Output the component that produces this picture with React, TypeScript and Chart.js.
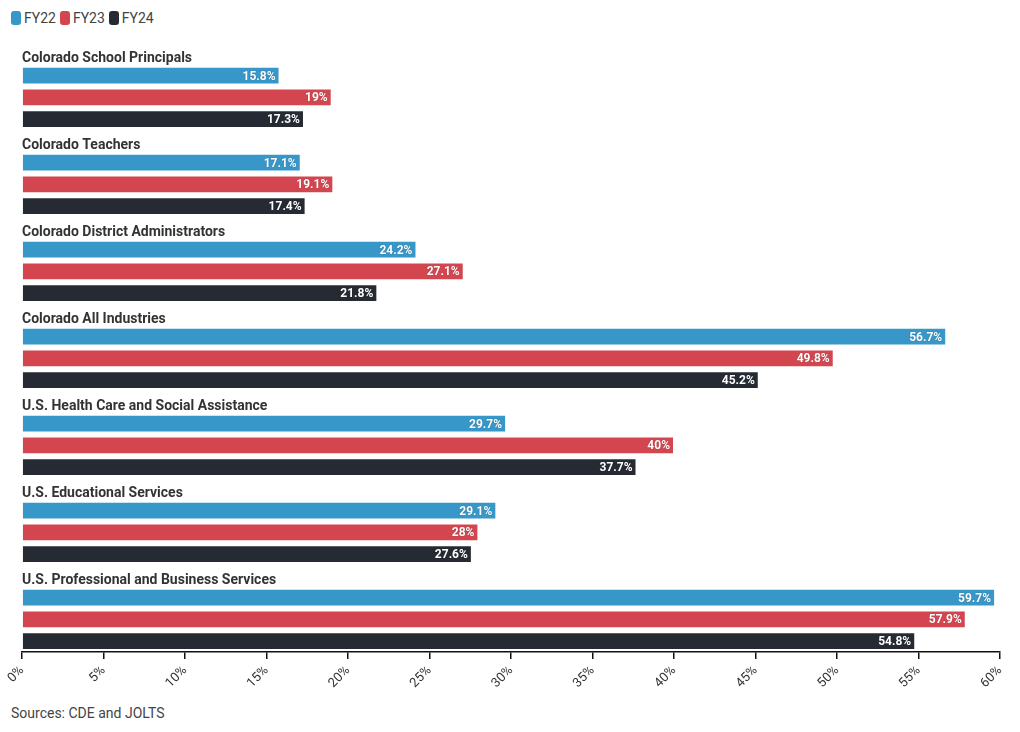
import React, { useEffect, useRef } from "react";
import { Chart, registerables } from "chart.js";

Chart.register(...registerables);

const categories = [
  "Colorado School Principals",
  "Colorado Teachers",
  "Colorado District Administrators",
  "Colorado All Industries",
  "U.S. Health Care and Social Assistance",
  "U.S. Educational Services",
  "U.S. Professional and Business Services",
];
const seriesNames = ["FY22", "FY23", "FY24"];
const fy22 = [15.8, 17.1, 24.2, 56.7, 29.7, 29.1, 59.7];
const fy23 = [19, 19.1, 27.1, 49.8, 40, 28, 57.9];
const fy24 = [17.3, 17.4, 21.8, 45.2, 37.7, 27.6, 54.8];
const colors = ["#3797c9", "#d4464f", "#262b33"];
const xTicks = [0, 5, 10, 15, 20, 25, 30, 35, 40, 45, 50, 55, 60];
const sourceText = "Sources: CDE and JOLTS";

const FONT = "Roboto, 'Noto Sans', sans-serif";

const labelPlugin = {
  id: "groupLabels",
  afterDatasetsDraw(chart: any) {
    const ctx = chart.ctx;
    ctx.save();
    for (let d = 1; d <= 3; d++) {
      const meta = chart.getDatasetMeta(d);
      const ds = chart.data.datasets[d];
      meta.data.forEach((bar: any, i: number) => {
        const v = ds.data[i];
        ctx.font = `bold 12px ${FONT}`;
        ctx.textAlign = "right";
        ctx.textBaseline = "middle";
        ctx.fillStyle = "#ffffff";
        ctx.shadowColor = "rgba(0,0,0,0.35)";
        ctx.shadowBlur = 1;
        ctx.fillText(`${v}%`, bar.x - 4, bar.y + 1);
      });
    }
    ctx.shadowColor = "transparent";
    ctx.shadowBlur = 0;
    const meta1 = chart.getDatasetMeta(1);
    meta1.data.forEach((bar: any, i: number) => {
      ctx.font = `bold 14px ${FONT}`;
      ctx.textAlign = "left";
      ctx.textBaseline = "alphabetic";
      ctx.fillStyle = "#333333";
      ctx.fillText(categories[i], chart.chartArea.left, bar.y - bar.height / 2 - 5);
    });
    ctx.restore();
  },
};

export default function App() {
  const ref = useRef<HTMLCanvasElement>(null);
  useEffect(() => {
    if (!ref.current) return;
    const chart = new Chart(ref.current, {
      type: "bar",
      data: {
        labels: categories,
        datasets: [
          { label: "", data: categories.map(() => null), backgroundColor: "transparent" },
          { label: seriesNames[0], data: fy22, backgroundColor: colors[0], borderColor: "rgba(255,255,255,0.3)", borderWidth: 1 },
          { label: seriesNames[1], data: fy23, backgroundColor: colors[1], borderColor: "rgba(255,255,255,0.3)", borderWidth: 1 },
          { label: seriesNames[2], data: fy24, backgroundColor: colors[2], borderColor: "rgba(255,255,255,0.3)", borderWidth: 1 },
        ] as any,
      },
      options: {
        indexAxis: "y",
        animation: false,
        responsive: false,
        maintainAspectRatio: false,
        layout: { padding: { left: 22, right: 20, top: 43, bottom: 0 } },
        datasets: { bar: { categoryPercentage: 1, barPercentage: 0.82 } } as any,
        plugins: {
          legend: { display: false },
          tooltip: { enabled: false },
        },
        scales: {
          y: { display: false, grid: { display: false } },
          x: {
            min: 0,
            max: 60,
            afterBuildTicks: (scale: any) => {
              scale.ticks = xTicks.map((v) => ({ value: v }));
            },
            afterFit: (scale: any) => {
              scale.height = 48;
            },
            border: { display: true, color: "#111", width: 1.5 },
            grid: { drawOnChartArea: false, drawTicks: true, tickLength: 7, color: "#111", lineWidth: 1.5 },
            ticks: {
              minRotation: 45,
              maxRotation: 45,
              autoSkip: false,
              color: "#333",
              font: { family: FONT, size: 13 },
              padding: 4,
              callback: (v: any) => `${v}%`,
            },
          },
        },
      },
      plugins: [labelPlugin],
    });
    return () => chart.destroy();
  }, []);

  return (
    <div style={{ position: "fixed", left: 0, top: 0, width: 1020, height: 732, background: "#fff", fontFamily: FONT }}>
      <div style={{ position: "absolute", left: 11, top: 10, display: "flex", alignItems: "center", gap: 4 }}>
        {seriesNames.map((s, i) => (
          <div key={s} style={{ display: "flex", alignItems: "center", gap: 3 }}>
            <div style={{ width: 10, height: 14, borderRadius: 3, background: colors[i] }} />
            <span style={{ fontSize: 14, color: "#444", lineHeight: "16px" }}>{s}</span>
          </div>
        ))}
      </div>
      <canvas ref={ref} width={1020} height={700} style={{ position: "absolute", left: 0, top: 0, width: 1020, height: 700 }} />
      <div style={{ position: "absolute", left: 11, top: 705, fontSize: 14, color: "#444" }}>{sourceText}</div>
    </div>
  );
}
